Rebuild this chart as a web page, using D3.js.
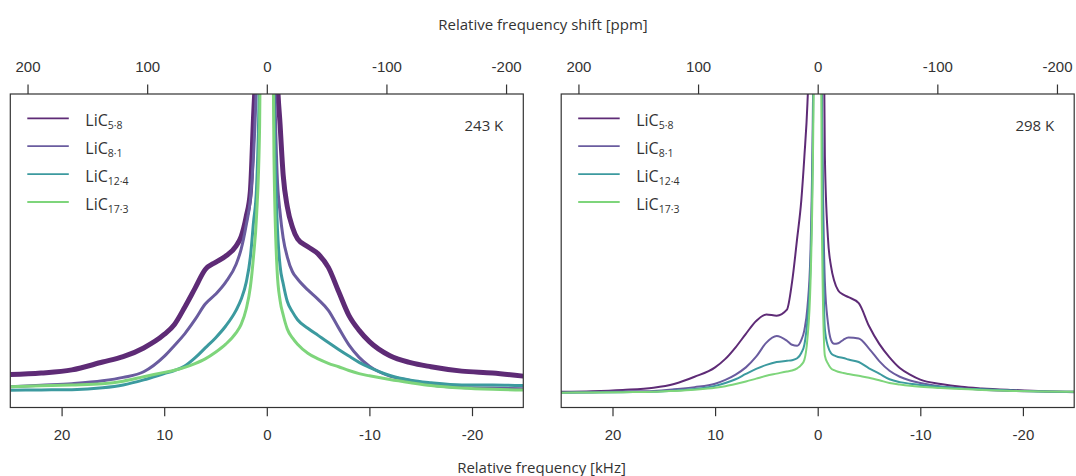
<!DOCTYPE html>
<html>
<head>
<meta charset="utf-8">
<script src="https://cdn.jsdelivr.net/npm/d3@7"></script>
<style>
  body { margin: 0; background: #fff; }
  svg { display: block; font-family: "Open Sans", "Noto Sans", sans-serif; }
  .axis text { font-size: 15px; fill: #333; }
  .axis line { stroke: #333; stroke-width: 1.2; }
  .axis path { display: none; }
</style>
</head>
<body>
<svg id="chart"></svg>
<script>
// frequency grid (kHz) that every series is read at
const freqGrid = [25, 22, 19, 16, 14, 12, 10, 9, 8, 7, 6, 5, 4, 3, 2.5, 2, 1.6, 1.3, 1.0, 0.7, 0.4, 0,
  -0.4, -0.7, -1.0, -1.3, -1.6, -2, -2.5, -3, -4, -5, -6, -7, -8, -9, -10, -12, -14, -16, -19, -22, -25];

const seriesNames = ['5·8', '8·1', '12·4', '17·3'];
const seriesColors = ['#5e2b76', '#6a5c9f', '#3c9a9f', '#7ed57b'];

// intensities (arbitrary units, 100 = top of frame), 243 K
const lic58_243 = [10.5, 11, 12, 14.5, 16.2, 19, 23.3, 26.5, 32, 38, 44, 46.3, 48.3, 51.5, 54.5, 61, 69, 92, 115, 160, 250, 350,
  250, 160, 108, 90, 74, 64, 57.5, 53.8, 51.3, 49, 44.7, 37, 29.4, 24.6, 21, 16.5, 14.3, 13, 11.6, 11, 10];
const lic81_243 = [6.6, 7.1, 7.6, 8.5, 9.6, 11.4, 16.3, 19.8, 23.5, 28, 33, 36.1, 40, 45.6, 50.5, 58.3, 66.5, 80, 105, 150, 240, 350,
  240, 120, 75, 62, 54, 48, 43.3, 41, 37.5, 34.5, 31, 25.4, 20, 16, 13.2, 10, 8.6, 7.2, 6.4, 6.2, 6.0];
const lic124_243 = [5.5, 5.6, 5.7, 6.3, 7.2, 8.8, 10.8, 11.8, 13.2, 15.8, 19, 22.2, 26, 31, 34.5, 40, 48, 59, 70, 110, 220, 350,
  220, 100, 60, 45, 39.5, 33.8, 30.5, 28, 25.3, 23, 20.7, 18.5, 16.4, 14.4, 12.8, 10.2, 8.7, 7.9, 7.2, 7.2, 7.0];
const lic173_243 = [6.6, 6.9, 7.2, 7.6, 8.4, 9.8, 11.2, 11.9, 12.8, 14, 15.5, 17.6, 20.2, 23.8, 26.5, 31.5, 38.5, 48, 61, 90, 200, 350,
  200, 80, 44, 34, 29.5, 25, 22.2, 20.2, 17.3, 15.5, 14.1, 13, 11.8, 10.8, 10.1, 8.9, 7.9, 7, 6.2, 5.8, 5.6];

// 298 K
const lic58_298 = [5.0, 5.2, 5.6, 6.3, 7.5, 9.8, 12.8, 15.5, 19.2, 23.5, 27.6, 29.7, 29.3, 31.2, 40, 54, 66, 80, 97, 130, 250, 400,
  200, 80, 54, 45, 40.5, 37.3, 36, 35.2, 33.3, 26, 20.3, 16, 12.6, 10.5, 8.9, 7.5, 6.6, 6.1, 5.6, 5.2, 5.0];
const lic81_298 = [4.7, 4.9, 5.1, 5.3, 5.8, 6.5, 7.6, 8.8, 10.5, 12.8, 16.2, 20.7, 22.8, 21.3, 20, 19.7, 21.5, 24.7, 32, 50, 120, 400,
  110, 40, 27, 21.5, 20.3, 20.5, 21.6, 22.3, 22, 18.8, 14.8, 11.7, 9.8, 8.6, 7.8, 6.7, 6.1, 5.7, 5.3, 5.1, 4.9];
const lic124_298 = [4.7, 4.8, 4.9, 5.0, 5.4, 5.9, 6.9, 7.8, 9.0, 10.7, 12.3, 13.6, 14.5, 14.9, 15.1, 15.7, 17.4, 20, 28, 45, 110, 400,
  100, 25, 19.5, 17.3, 16.6, 16.1, 15.8, 15.3, 14.5, 12.5, 10.8, 9, 8.1, 7.6, 7.2, 6.6, 6.1, 5.8, 5.4, 5.1, 5.0];
const lic173_298 = [4.7, 4.8, 4.9, 5.0, 5.3, 5.7, 6.3, 6.8, 7.5, 8.3, 9.2, 10.1, 10.8, 11.5, 11.8, 12.5, 13.6, 15.2, 22, 40, 100, 400,
  60, 16.5, 14, 12.5, 11.9, 11.4, 11, 10.7, 10.1, 9.5, 8.7, 7.8, 7.3, 6.9, 6.6, 6.2, 5.9, 5.6, 5.3, 5.1, 5.0];

const kHzTicks = [20, 10, 0, -10, -20];
const ppmTicks = [200, 100, 0, -100, -200];
const larmorMHz = 116.6;   // 7Li

const width = 1076, height = 476;
const svg = d3.select('#chart').attr('width', width).attr('height', height);

const panelW = 513, panelH = 313.5, panelTop = 94;

function drawPanel(x0, series, tempLabel, widths, id) {
  const g = svg.append('g').attr('transform', `translate(${x0},${panelTop})`);

  const x = d3.scaleLinear().domain([25, -25]).range([0, panelW]);
  const xPpm = d3.scaleLinear().domain([25000 / larmorMHz, -25000 / larmorMHz]).range([0, panelW]);
  const y = d3.scaleLinear().domain([0, 100]).range([panelH, 0]);

  g.append('clipPath').attr('id', id)
    .append('rect').attr('width', panelW).attr('height', panelH);

  const line = d3.line()
    .x((d, i) => x(freqGrid[i]))
    .y(d => y(d))
    .curve(d3.curveMonotoneX);

  g.append('g').attr('clip-path', `url(#${id})`)
    .selectAll('path')
    .data(series)
    .join('path')
      .attr('d', d => line(d))
      .attr('fill', 'none')
      .attr('stroke', (d, i) => seriesColors[i])
      .attr('stroke-width', (d, i) => widths[i])
      .attr('stroke-linejoin', 'round');

  g.append('rect')
    .attr('width', panelW).attr('height', panelH)
    .attr('fill', 'none').attr('stroke', '#333').attr('stroke-width', 1.2);

  g.append('g').attr('class', 'axis')
    .attr('transform', `translate(0,${panelH})`)
    .call(d3.axisBottom(x).tickValues(kHzTicks).tickSize(8.7).tickPadding(12.8).tickFormat(d => String(d)));

  g.append('g').attr('class', 'axis')
    .call(d3.axisTop(xPpm).tickValues(ppmTicks).tickSize(9.5).tickPadding(13).tickFormat(d => String(d)));

  // legend
  const leg = g.selectAll('.leg').data(seriesNames).join('g')
    .attr('class', 'leg')
    .attr('transform', (d, i) => `translate(17,${24.3 + i * 27.9})`);
  leg.append('line')
    .attr('x1', 0).attr('x2', 41.5)
    .attr('stroke', (d, i) => seriesColors[i]).attr('stroke-width', 1.8);
  const lt = leg.append('text')
    .attr('x', 58).attr('y', 7.5)
    .attr('font-size', 16).attr('fill', '#333');
  lt.append('tspan').text('LiC');
  lt.append('tspan').attr('font-size', 10.5).attr('dy', 3).text(d => d);

  g.append('text')
    .attr('x', panelW - 20).attr('y', 37)
    .attr('text-anchor', 'end')
    .attr('font-size', 15).attr('fill', '#333')
    .text(tempLabel);
}

drawPanel(10.3, [lic58_243, lic81_243, lic124_243, lic173_243], '243 K', [5, 3, 3, 3], 'clipA');
drawPanel(561.2, [lic58_298, lic81_298, lic124_298, lic173_298], '298 K', [2, 2, 2, 2], 'clipB');

svg.append('text')
  .attr('x', 543).attr('y', 29.5)
  .attr('text-anchor', 'middle').attr('font-size', 15).attr('fill', '#333')
  .text('Relative frequency shift [ppm]');

svg.append('text')
  .attr('x', 541.5).attr('y', 473.3)
  .attr('text-anchor', 'middle').attr('font-size', 15).attr('fill', '#333')
  .text('Relative frequency [kHz]');
</script>
</body>
</html>
